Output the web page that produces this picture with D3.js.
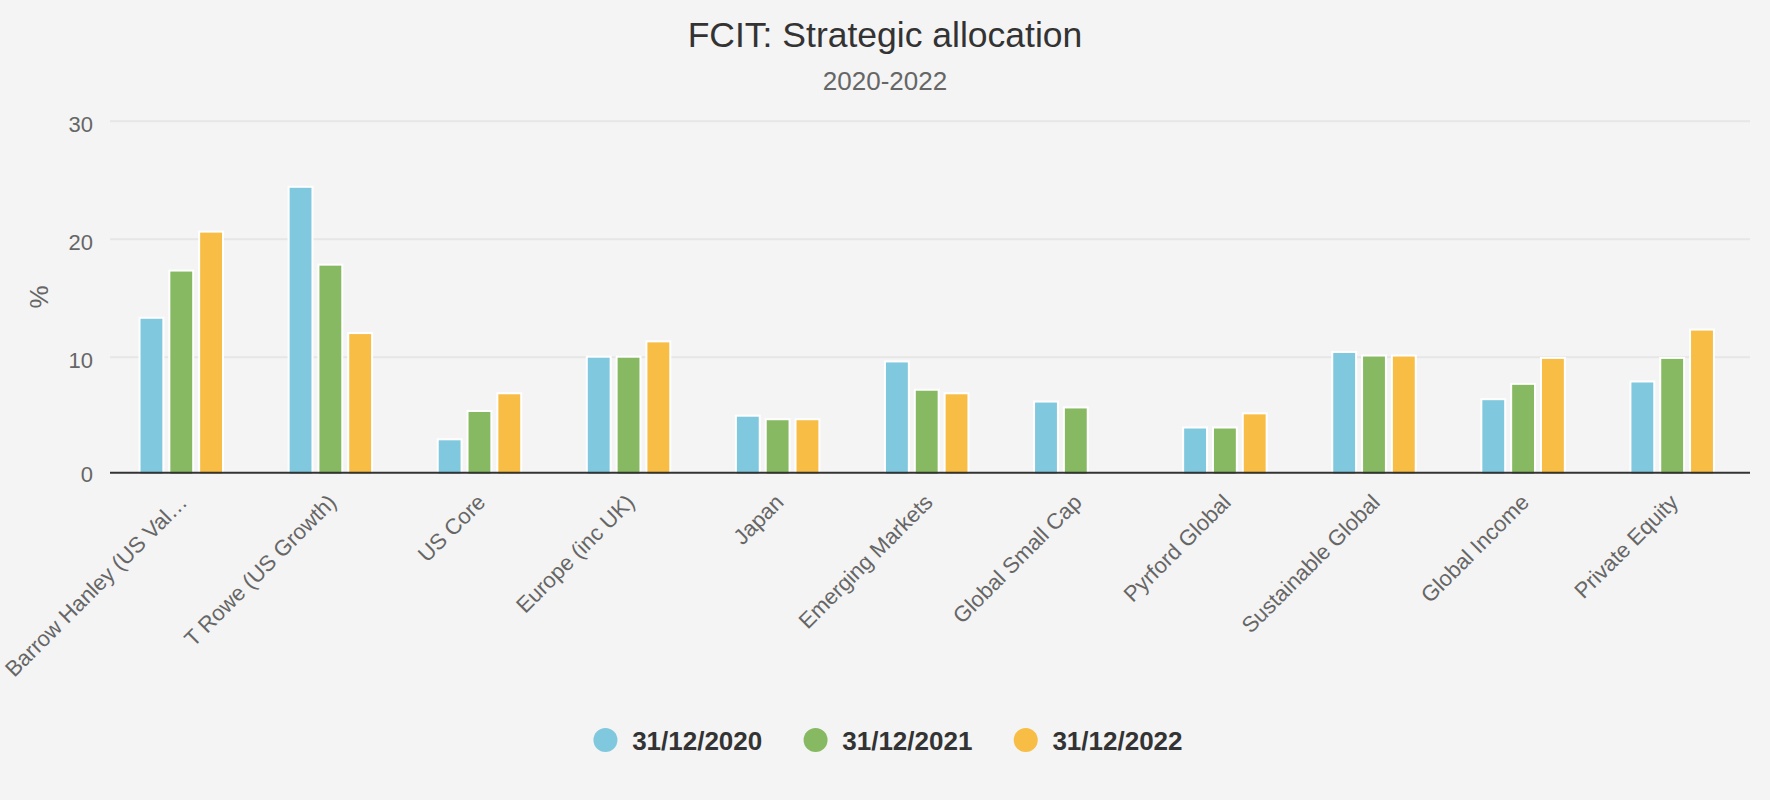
<!DOCTYPE html>
<html><head><meta charset="utf-8">
<script src="https://cdn.jsdelivr.net/npm/d3@7/dist/d3.min.js"></script>
<style>
body{margin:0;background:#f4f4f4;}
svg{display:block;font-family:"Liberation Sans",Arial,Helvetica,sans-serif;}
</style>
</head><body>
<svg id="chart" width="1770" height="800"></svg>
<script>
const chartTitle = "FCIT: Strategic allocation";
const chartSubtitle = "2020-2022";
const yAxisTitle = "%";
const categories = ["Barrow Hanley (US Val…", "T Rowe (US Growth)", "US Core", "Europe (inc UK)", "Japan",
  "Emerging Markets", "Global Small Cap", "Pyrford Global", "Sustainable Global", "Global Income", "Private Equity"];
const seriesNames = ["31/12/2020", "31/12/2021", "31/12/2022"];
const values2020 = [13.3, 24.4, 3.0, 10.0, 5.0, 9.6, 6.2, 4.0, 10.4, 6.4, 7.9];
const values2021 = [17.3, 17.8, 5.4, 10.0, 4.7, 7.2, 5.7, 4.0, 10.1, 7.7, 9.9];
const values2022 = [20.6, 12.0, 6.9, 11.3, 4.7, 6.9, null, 5.2, 10.1, 9.9, 12.3];
const yTicks = [0, 10, 20, 30];
const seriesColors = ["#80c8dd", "#87b962", "#f7bd45"];

const seriesValues = [values2020, values2021, values2022];
const W = 1770, H = 800;
const plot = {left: 110, right: 1750, top: 120.7, bottom: 474.7};
const axisLineOffset = 2;

const svg = d3.select("#chart");
svg.append("rect").attr("width", W).attr("height", H).attr("fill", "#f4f4f4");

// Title & subtitle
svg.append("text").attr("x", 885).attr("y", 47).attr("text-anchor", "middle")
  .attr("font-size", 35.5).attr("fill", "#333333").text(chartTitle);
svg.append("text").attr("x", 885).attr("y", 90).attr("text-anchor", "middle")
  .attr("font-size", 26).attr("fill", "#666666").text(chartSubtitle);

const x0 = d3.scaleBand().domain(categories).range([plot.left, plot.right]).paddingInner(0).paddingOuter(0);
const x1 = d3.scaleBand().domain(d3.range(seriesNames.length)).range([0, x0.bandwidth()])
  .paddingInner(0.2).paddingOuter(1.1).align(0.45);
const y = d3.scaleLinear().domain([0, 30]).range([plot.bottom, plot.top]);
const axisY = y(0) - axisLineOffset;

// gridlines + tick labels
const yAxis = d3.axisLeft(y).tickValues(yTicks.filter(d => d > 0)).tickSize(-(plot.right - plot.left)).tickPadding(17).tickFormat(d3.format("d"));
const gy = svg.append("g").attr("transform", `translate(${plot.left},0)`).call(yAxis);
gy.select(".domain").remove();
gy.selectAll(".tick line").attr("stroke", "#e6e6e6").attr("stroke-width", 2);
gy.selectAll(".tick text").attr("font-size", 22).attr("fill", "#666666")
  .attr("font-family", '"Liberation Sans",Arial,sans-serif').attr("dy", "0.47em");
// zero label (sits at the axis line)
svg.append("text").attr("x", plot.left - 17).attr("y", axisY).attr("dy", "0.4em")
  .attr("text-anchor", "end").attr("font-size", 22).attr("fill", "#666666").text(d3.format("d")(yTicks[0]));

// y axis title
svg.append("text").attr("transform", `translate(48,297) rotate(-90)`).attr("text-anchor", "middle")
  .attr("font-size", 26).attr("fill", "#666666").text(yAxisTitle);

// bars
svg.append("clipPath").attr("id", "plotclip").append("rect")
  .attr("x", plot.left).attr("y", 0).attr("width", plot.right - plot.left).attr("height", axisY + 1);
const gBars = svg.append("g").attr("clip-path", "url(#plotclip)");
categories.forEach((c, ci) => {
  const g = gBars.append("g").attr("transform", `translate(${x0(c)},0)`);
  seriesValues.forEach((vals, si) => {
    const v = vals[ci];
    if (v == null) return;
    g.append("rect")
      .attr("x", x1(si)).attr("width", x1.bandwidth())
      .attr("y", y(v)).attr("height", y(0) - y(v) + 2)
      .attr("fill", seriesColors[si]).attr("stroke", "#ffffff").attr("stroke-width", 2);
  });
});

// x axis line
svg.append("line").attr("x1", plot.left).attr("x2", plot.right).attr("y1", axisY).attr("y2", axisY)
  .attr("stroke", "#333333").attr("stroke-width", 2);

// x labels
const gx = svg.append("g");
categories.forEach((c) => {
  const cx = x0(c) + x0.bandwidth() / 2;
  gx.append("text").attr("transform", `translate(${cx + 4},${axisY + 31}) rotate(-45)`)
    .attr("text-anchor", "end").attr("font-size", 22).attr("fill", "#666666").text(c);
});

// legend
const legend = svg.append("g");
let lx = 0;
seriesNames.forEach((name, i) => {
  const g = legend.append("g").attr("transform", `translate(${lx},0)`);
  g.append("circle").attr("cx", 12).attr("cy", 740).attr("r", 12).attr("fill", seriesColors[i]);
  const t = g.append("text").attr("x", 38.7).attr("y", 750).attr("font-size", 26).attr("font-weight", "bold")
    .attr("fill", "#333333").text(name);
  const w = t.node().getComputedTextLength();
  lx += 38.7 + w + 41.3;
});
const totalW = lx - 41.3;
legend.attr("transform", `translate(${888 - totalW / 2},0)`);
</script>
</body></html>
